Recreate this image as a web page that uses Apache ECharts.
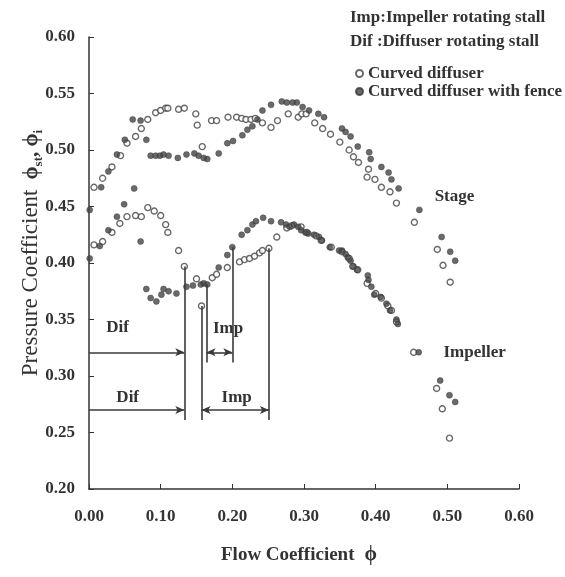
<!DOCTYPE html>
<html>
<head>
<meta charset="utf-8">
<script src="https://cdn.jsdelivr.net/npm/echarts@6/dist/echarts.min.js"></script>
<style>
  html, body { margin: 0; background: #fff; }
  #chart { width: 565px; height: 577px; }
</style>
</head>
<body>
<div id="chart"></div>
<script>
// flow coefficient, pressure coefficient pairs
const stageOpen = [
  [0.007,0.467],[0.019,0.475],[0.032,0.485],[0.044,0.495],[0.053,0.506],[0.065,0.512],[0.073,0.519],
  [0.082,0.527],[0.093,0.533],[0.100,0.535],[0.107,0.537],[0.110,0.537],[0.125,0.536],[0.133,0.537],
  [0.149,0.532],[0.151,0.522],[0.158,0.503],[0.171,0.526],[0.178,0.526],[0.194,0.529],[0.206,0.529],
  [0.213,0.528],[0.219,0.527],[0.226,0.527],[0.232,0.528],[0.242,0.524],[0.254,0.520],[0.263,0.526],
  [0.278,0.532],[0.292,0.529],[0.297,0.532],[0.303,0.532],[0.315,0.524],[0.326,0.519],[0.337,0.514],
  [0.350,0.507],[0.363,0.500],[0.369,0.494],[0.376,0.489],[0.388,0.476],[0.390,0.483],[0.399,0.474],
  [0.408,0.467],[0.420,0.463],[0.429,0.453],[0.454,0.436],[0.486,0.412],[0.494,0.398],[0.504,0.383]
];
const impOpen = [
  [0.007,0.416],[0.019,0.419],[0.032,0.427],[0.043,0.435],[0.053,0.441],[0.065,0.442],[0.073,0.441],
  [0.082,0.449],[0.091,0.446],[0.100,0.442],[0.107,0.434],[0.110,0.427],[0.125,0.411],[0.133,0.397],
  [0.150,0.386],[0.157,0.362],[0.172,0.387],[0.178,0.390],[0.193,0.396],[0.210,0.401],[0.217,0.403],
  [0.224,0.404],[0.231,0.406],[0.238,0.409],[0.242,0.411],[0.251,0.413],[0.262,0.423],[0.276,0.431],
  [0.283,0.433],[0.296,0.432],[0.304,0.427],[0.317,0.424],[0.324,0.420],[0.338,0.414],[0.353,0.410],
  [0.363,0.404],[0.368,0.397],[0.375,0.394],[0.388,0.382],[0.400,0.373],[0.408,0.369],[0.417,0.362],
  [0.422,0.358],[0.429,0.348],[0.453,0.321],[0.485,0.289],[0.493,0.271],[0.503,0.245]
];
const stageFence = [
  [0.001,0.447],[0.017,0.467],[0.027,0.481],[0.039,0.496],[0.050,0.509],[0.061,0.527],[0.072,0.526],
  [0.080,0.509],[0.086,0.495],[0.093,0.495],[0.099,0.495],[0.104,0.496],[0.111,0.495],[0.124,0.493],
  [0.136,0.496],[0.147,0.497],[0.153,0.495],[0.160,0.493],[0.165,0.492],[0.181,0.497],[0.193,0.506],
  [0.201,0.508],[0.214,0.513],[0.221,0.518],[0.228,0.521],[0.235,0.527],[0.242,0.535],[0.254,0.540],
  [0.269,0.543],[0.276,0.542],[0.284,0.542],[0.290,0.542],[0.298,0.538],[0.307,0.535],[0.320,0.532],
  [0.328,0.529],[0.353,0.519],[0.358,0.516],[0.365,0.512],[0.375,0.503],[0.391,0.498],[0.393,0.492],
  [0.408,0.485],[0.418,0.480],[0.422,0.474],[0.432,0.466],[0.461,0.447],[0.492,0.423],[0.504,0.410],
  [0.511,0.402]
];
const impFence = [
  [0.001,0.404],[0.015,0.415],[0.027,0.429],[0.039,0.441],[0.049,0.452],[0.063,0.466],[0.072,0.419],
  [0.080,0.377],[0.086,0.369],[0.094,0.366],[0.101,0.372],[0.104,0.377],[0.111,0.375],[0.122,0.373],
  [0.136,0.379],[0.145,0.380],[0.156,0.381],[0.160,0.382],[0.165,0.381],[0.181,0.396],[0.193,0.407],
  [0.200,0.414],[0.213,0.425],[0.221,0.429],[0.228,0.434],[0.233,0.437],[0.243,0.440],[0.254,0.437],
  [0.268,0.436],[0.275,0.434],[0.280,0.432],[0.286,0.434],[0.292,0.432],[0.296,0.429],[0.302,0.427],
  [0.306,0.426],[0.314,0.425],[0.321,0.423],[0.325,0.420],[0.336,0.414],[0.349,0.411],[0.353,0.411],
  [0.358,0.408],[0.361,0.405],[0.365,0.402],[0.369,0.397],[0.374,0.394],[0.389,0.389],[0.390,0.385],
  [0.394,0.379],[0.398,0.372],[0.407,0.370],[0.415,0.364],[0.420,0.358],[0.429,0.350],[0.431,0.346],
  [0.460,0.321],[0.490,0.296],[0.503,0.283],[0.511,0.277]
];

// stall onset markers: x, top y, bottom y
const stallLines = [[0.133,0.397,0.261],[0.157,0.362,0.261],[0.164,0.381,0.312],[0.200,0.414,0.312],[0.251,0.413,0.261]];
// stall ranges: x from, x to, y, double headed
const stallRanges = [[0,0.133,0.321,false],[0,0.133,0.270,false],[0.164,0.200,0.321,true],[0.157,0.251,0.270,true]];
const notes = [
  ['Dif', 0.040, 0.343], ['Imp', 0.194, 0.342], ['Dif', 0.054, 0.281], ['Imp', 0.206, 0.281],
  ['Stage', 0.510, 0.459], ['Impeller', 0.538, 0.321]
];

const FONT = 'Liberation Serif';
const INK = '#333';

const chart = echarts.init(document.getElementById('chart'));

const markLines = [];
stallLines.forEach(function (l) {
  markLines.push([{ coord: [l[0], l[1]], symbol: 'none' }, { coord: [l[0], l[2]], symbol: 'none' }]);
});
stallRanges.forEach(function (r) {
  markLines.push([{ coord: [r[0], r[2]], symbol: r[3] ? 'arrow' : 'none' }, { coord: [r[1], r[2]], symbol: 'arrow' }]);
});

const openStyle = { color: '#fff', borderColor: '#444', borderWidth: 1.4 };
const fenceStyle = { color: '#454545', borderColor: '#3a3a3a', borderWidth: 0.6 };

const option = {
  animation: false,
  grid: { left: 89, right: 46, top: 37, bottom: 88 },
  legend: {
    orient: 'vertical', left: 350, top: 60, itemGap: 1, itemWidth: 7, itemHeight: 7,
    icon: 'circle',
    textStyle: { fontFamily: FONT, fontWeight: 'bold', fontSize: 17, color: INK },
    data: ['Curved diffuser', 'Curved diffuser with fence']
  },
  xAxis: {
    type: 'value', min: 0, max: 0.6, interval: 0.1,
    name: '{n|Flow Coefficient}   {p|ϕ}', nameLocation: 'middle', nameGap: 56,
    nameTextStyle: { padding: [0, 10, 0, 0], rich: {
      n: { fontFamily: FONT, fontWeight: 'bold', fontSize: 19, color: INK },
      p: { fontFamily: FONT, fontWeight: 'bold', fontSize: 20, color: INK }
    } },
    axisLine: { lineStyle: { color: INK, width: 1.5 } },
    axisTick: { inside: true, length: 5, lineStyle: { color: INK } },
    splitLine: { show: false },
    axisLabel: { margin: 19, fontFamily: FONT, fontWeight: 'bold', fontSize: 17, color: INK,
      formatter: function (v) { return v.toFixed(2); } }
  },
  yAxis: {
    type: 'value', min: 0.2, max: 0.6, interval: 0.05,
    name: '{n|Pressure Coefficient}   {p|ϕ}{s|st}{p|, ϕ}{s|i}', nameLocation: 'middle', nameGap: 47,
    nameMoveOverlap: false,
    nameTextStyle: { rich: {
      n: { fontFamily: FONT, fontSize: 23, color: INK, lineHeight: 24, verticalAlign: 'bottom', padding: [0, 0, 0, 20] },
      p: { fontFamily: FONT, fontWeight: 'bold', fontSize: 21, color: INK, lineHeight: 24, verticalAlign: 'bottom' },
      s: { fontFamily: FONT, fontWeight: 'bold', fontSize: 13, color: INK, lineHeight: 24, verticalAlign: 'bottom', padding: [0, 0, -3, 0] }
    } },
    axisLine: { show: true, lineStyle: { color: INK, width: 1.5 } },
    axisTick: { show: true, inside: true, length: 5, lineStyle: { color: INK } },
    splitLine: { show: false },
    axisLabel: { margin: 14, fontFamily: FONT, fontWeight: 'bold', fontSize: 17, color: INK,
      formatter: function (v) { return v.toFixed(2); } }
  },
  series: [
    { name: 'Curved diffuser', type: 'scatter', symbolSize: 6, itemStyle: openStyle, data: stageOpen, z: 3 },
    { name: 'Curved diffuser', type: 'scatter', symbolSize: 6, itemStyle: openStyle, data: impOpen, z: 3 },
    { name: 'Curved diffuser with fence', type: 'scatter', symbolSize: 6, itemStyle: fenceStyle, data: stageFence, z: 4 },
    { name: 'Curved diffuser with fence', type: 'scatter', symbolSize: 6, itemStyle: fenceStyle, data: impFence, z: 4,
      markLine: {
        silent: true, symbolSize: [6, 9], label: { show: false },
        lineStyle: { color: '#3a3a3a', width: 1.6, type: 'solid' },
        emphasis: { disabled: true },
        data: markLines
      } }
  ]
};
chart.setOption(option);

// header text and curve/range labels
const graphics = [
  { type: 'text', left: 350, top: 9, style: { text: 'Imp:Impeller rotating stall', font: 'bold 17px "Liberation Serif"', fill: INK } },
  { type: 'text', left: 350, top: 33, style: { text: 'Dif :Diffuser rotating stall', font: 'bold 17px "Liberation Serif"', fill: INK } }
];
notes.forEach(function (n) {
  const p = chart.convertToPixel({ gridIndex: 0 }, [n[1], n[2]]);
  graphics.push({ type: 'text', x: p[0], y: p[1],
    style: { text: n[0], font: 'bold 17px "Liberation Serif"', fill: INK, align: 'center', verticalAlign: 'middle' } });
});
chart.setOption({ graphic: graphics });
</script>
</body>
</html>
